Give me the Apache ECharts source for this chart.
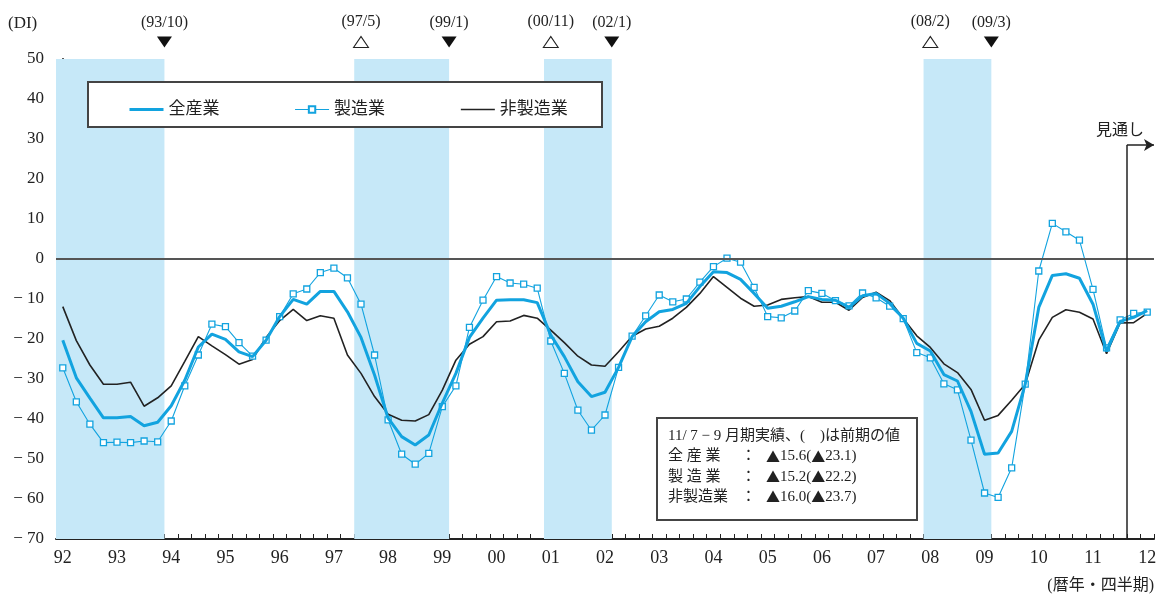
<!DOCTYPE html>
<html>
<head>
<meta charset="utf-8">
<script src="https://cdn.jsdelivr.net/npm/echarts@6/dist/echarts.min.js"></script>
<style>
  html, body { margin: 0; padding: 0; background: #fff; }
  #chart { width: 1157px; height: 598px; }
</style>
</head>
<body>
<div id="chart"></div>
<script>
// Year tick labels; one category per quarter from 92 Q1 to 12 Q1
const years = ['92','93','94','95','96','97','98','99','00','01','02',
               '03','04','05','06','07','08','09','10','11','12'];
const quarters = [];
years.forEach((y, k) => {
  for (let q = 1; q <= 4; q++) {
    if (k < years.length - 1 || q === 1) quarters.push(y + '-' + q);
  }
});

// Business conditions DI (quarterly)
const allIndustries = [
  -20.3, -29.7, -34.8, -39.7, -39.7, -39.4, -41.7, -40.8,
  -36.7, -30.3, -22.0, -18.8, -20.1, -23.2, -24.4, -20.3,
  -14.4, -10.1, -11.3,  -8.1,  -8.1, -13.2, -19.6, -29.0,
  -39.8, -44.4, -46.5, -44.0, -36.0, -28.6, -19.6, -14.8,
  -10.3, -10.2, -10.2, -10.9, -19.0, -24.4, -30.7, -34.4,
  -33.3, -27.1, -19.4, -15.7, -13.2, -12.6, -11.1,  -6.9,
   -3.2,  -3.4,  -5.1,  -8.6, -12.3, -11.8, -10.7,  -9.4,
  -10.1, -10.3, -12.1,  -9.2,  -8.6, -11.1, -14.8, -21.1,
  -23.0, -28.9, -30.5, -38.1, -48.8, -48.5, -43.1, -31.3,
  -12.1,  -4.1,  -3.7,  -4.8, -11.3, -23.1, -15.6, -14.6,
  -12.9
];
const manufacturing = [
  -27.2, -35.7, -41.3, -45.9, -45.8, -45.9, -45.5, -45.7,
  -40.5, -31.7, -24.0, -16.3, -16.9, -20.9, -24.3, -20.3,
  -14.4,  -8.7,  -7.5,  -3.4,  -2.3,  -4.7, -11.3, -24.0,
  -40.2, -48.8, -51.3, -48.6, -36.9, -31.7, -17.1, -10.3,
   -4.4,  -6.0,  -6.3,  -7.3, -20.5, -28.6, -37.8, -42.8,
  -39.0, -27.1, -19.3, -14.2,  -9.0, -10.7, -10.0,  -5.8,
   -1.9,   0.2,  -0.8,  -7.1, -14.4, -14.7, -13.0,  -7.9,
   -8.6, -10.4, -11.7,  -8.5,  -9.7, -11.8, -14.9, -23.4,
  -24.7, -31.2, -32.7, -45.3, -58.5, -59.6, -52.2, -31.3,
   -3.0,   8.9,   6.8,   4.7,  -7.6, -22.2, -15.2, -13.6,
  -13.3
];
const nonManufacturing = [
  -11.9, -20.4, -26.5, -31.3, -31.3, -30.8, -36.8, -34.7,
  -31.7, -25.6, -19.4, -21.7, -23.9, -26.3, -25.1, -19.6,
  -15.4, -12.6, -15.4, -14.2, -14.8, -24.0, -28.6, -34.4,
  -38.8, -40.3, -40.5, -38.9, -32.8, -25.3, -21.3, -19.4,
  -15.7, -15.5, -14.1, -14.8, -17.8, -20.9, -24.3, -26.5,
  -26.8, -23.2, -19.3, -17.5, -16.8, -14.8, -12.1,  -8.6,
   -4.4,  -7.1,  -9.8, -11.8, -11.5, -10.1,  -9.7,  -9.4,
  -10.8, -10.8, -12.8,  -9.6,  -8.3, -10.4, -14.9, -19.2,
  -22.1, -26.2, -28.4, -32.6, -40.3, -39.1, -35.3, -31.3,
  -20.3, -14.6, -12.7, -13.3, -15.0, -23.7, -16.0, -15.9,
  -13.6
];

// Recession periods (shaded quarters), with peak / trough dates
const shadeFrom = ['92-1', '97-3', '01-1', '08-1'];
const shadeTo   = ['93-4', '99-1', '02-1', '09-1'];
const peakLabels   = [null, '97/5', '00/11', '08/2'];
const troughLabels = ['93/10', '99/1', '02/1', '09/3'];

// Latest actual quarter and start of the outlook
const latestQuarter = '11-3';
const forecastFrom = '11-4';

const seriesNames = ['全産業', '製造業', '非製造業'];

const SERIF = "'Liberation Serif', 'DejaVu Serif', 'Noto Sans CJK JP', serif";
const CJK = "'Noto Sans CJK JP', sans-serif";
const CYAN = '#12a3df';
const SHADE = '#c6e8f8';
const DARK = '#222';

const qi = q => quarters.indexOf(q);

const chart = echarts.init(document.getElementById('chart'), null, { renderer: 'canvas' });

const shadeAreas = shadeFrom.map((f, k) => [
  { xAxis: qi(f) - 0.5 },
  { xAxis: qi(shadeTo[k]) + 0.5 }
]);

const turnMarks = [];
shadeFrom.forEach((f, k) => {
  if (peakLabels[k]) {
    turnMarks.push({
      coord: [qi(f), 50],
      symbol: 'triangle',
      symbolRotate: 0,
      itemStyle: { color: '#fff', borderColor: DARK, borderWidth: 1 },
      label: { formatter: '(' + peakLabels[k] + ')' }
    });
  }
  turnMarks.push({
    coord: [qi(shadeTo[k]) + 0.5, 50],
    symbol: 'triangle',
    symbolRotate: 180,
    itemStyle: { color: '#111', borderColor: '#111', borderWidth: 0 },
    label: { formatter: '(' + troughLabels[k] + ')' }
  });
});

const fx = qi(forecastFrom) - 0.5;
const ARROW_Y = 28.5;

// "▲" marks a negative DI; the triangle is drawn in the CJK font
const fmtDI = v => '{m|' + (v < 0 ? '▲' : '') + '}' + Math.abs(v).toFixed(1);
const li = qi(latestQuarter);
const boxRows = [
  ['全 産 業', allIndustries],
  ['製 造 業', manufacturing],
  ['非製造業', nonManufacturing]
];
const richTri = { m: { fontFamily: CJK, fontSize: 14, fill: DARK } };
const boxTexts = [];
boxTexts.push({
  type: 'text', left: 668, top: 429,
  style: { text: '11/ 7 − 9 月期実績、(　)は前期の値', font: '15px ' + SERIF, fill: DARK }
});
boxRows.forEach((r, k) => {
  const y = 449 + k * 20.3;
  boxTexts.push({ type: 'text', left: 668, top: y, style: { text: r[0], font: '15px ' + SERIF, fill: DARK } });
  boxTexts.push({ type: 'text', left: 741, top: y, style: { text: '：', font: '15px ' + SERIF, fill: DARK } });
  boxTexts.push({
    type: 'text', left: 766, top: y,
    style: {
      text: fmtDI(r[1][li]) + '(' + fmtDI(r[1][li - 1]) + ')',
      font: '15px ' + SERIF, fill: DARK, rich: richTri
    }
  });
});

const option = {
  animation: false,
  backgroundColor: '#fff',
  grid: { left: 56, top: 59, width: 1098, height: 480, containLabel: false, outerBoundsMode: 'none' },
  legend: {
    data: [
      { name: seriesNames[0], itemStyle: { opacity: 0 }, lineStyle: { color: CYAN, width: 3 } },
      { name: seriesNames[1], lineStyle: { color: CYAN, width: 1.1 } },
      { name: seriesNames[2], itemStyle: { opacity: 0 }, lineStyle: { color: DARK, width: 1.6 } }
    ],
    left: 123, top: 96, z: 20,
    itemGap: 75, itemWidth: 34, itemHeight: 8,
    textStyle: { fontFamily: SERIF, fontSize: 17, color: DARK }
  },
  xAxis: [
    {
      type: 'category',
      data: quarters,
      boundaryGap: true,
      axisLine: { onZero: false, lineStyle: { color: DARK, width: 2 } },
      axisTick: { show: true, inside: true, interval: 0, length: 5, lineStyle: { color: DARK, width: 1 } },
      axisLabel: {
        interval: 3, margin: 10,
        formatter: v => v.split('-')[0],
        fontFamily: SERIF, fontSize: 18, color: DARK
      },
      splitLine: { show: false }
    },
    { type: 'value', min: -0.5, max: 80.5, show: false }
  ],
  yAxis: {
    type: 'value', min: -70, max: 50, interval: 10,
    axisLine: { show: true, lineStyle: { color: DARK, width: 2 } },
    axisTick: { show: true, inside: true, length: 5, lineStyle: { color: DARK, width: 1 } },
    axisLabel: {
      margin: 12, fontFamily: SERIF, fontSize: 17, color: DARK,
      formatter: v => (v < 0 ? '− ' + Math.abs(v) : String(v))
    },
    splitLine: { show: false }
  },
  series: [
    {
      name: 'shade', type: 'line', xAxisIndex: 1, data: [], z: 0, silent: true,
      markArea: { silent: true, itemStyle: { color: SHADE, opacity: 1 }, data: shadeAreas }
    },
    {
      name: 'ref', type: 'line', xAxisIndex: 1, data: [], z: 1, silent: true,
      markLine: {
        silent: true, symbol: ['none', 'none'], label: { show: false },
        lineStyle: { color: DARK, width: 1.5, type: 'solid' },
        data: [
          { yAxis: 0, lineStyle: { color: '#555', width: 2 } },
          [{ coord: [fx, -70] }, { coord: [fx, ARROW_Y] }],
          [{ coord: [fx, ARROW_Y], symbol: 'none' }, { coord: [80.5, ARROW_Y], symbol: 'arrow', symbolSize: [9, 10] }]
        ]
      },
      markPoint: {
        silent: true,
        symbolSize: [15, 11],
        symbolOffset: [0, -17],
        label: {
          show: true, position: 'top', distance: 6,
          fontFamily: SERIF, fontSize: 16, color: DARK
        },
        data: turnMarks.concat([{
          coord: [fx, ARROW_Y], symbol: 'circle', symbolSize: 0, symbolOffset: [0, 0],
          label: { position: 'inside', offset: [-7, -14], formatter: '見通し', fontSize: 16 }
        }])
      }
    },
    {
      name: '非製造業', type: 'line', data: nonManufacturing, z: 2,
      symbol: 'none', showSymbol: false,
      lineStyle: { color: DARK, width: 1.6 },
      itemStyle: { color: DARK }
    },
    {
      name: '製造業', type: 'line', data: manufacturing, z: 3,
      symbol: 'rect', symbolSize: 6, showSymbol: true,
      lineStyle: { color: CYAN, width: 1.1 },
      itemStyle: { color: '#fff', borderColor: CYAN, borderWidth: 1.3 }
    },
    {
      name: '全産業', type: 'line', data: allIndustries, z: 4,
      symbol: 'none', showSymbol: false,
      lineStyle: { color: CYAN, width: 3 },
      itemStyle: { color: CYAN }
    }
  ],
  graphic: [
    {
      type: 'rect', z: 5,
      shape: { x: 88, y: 82, width: 514, height: 45 },
      style: { fill: '#fff', stroke: '#444', lineWidth: 2 }
    },
    {
      type: 'rect', z: 5,
      shape: { x: 657, y: 418, width: 260, height: 102 },
      style: { fill: '#fff', stroke: '#444', lineWidth: 2 }
    },
    { type: 'text', left: 8, top: 15, style: { text: '(DI)', font: '17px ' + SERIF, fill: DARK } },
    { type: 'text', right: 3, top: 578, style: { text: '(暦年・四半期)', font: '16px ' + SERIF, fill: DARK } }
  ].concat(boxTexts.map(t => Object.assign({ z: 6 }, t)))
};

chart.setOption(option);
</script>
</body>
</html>
